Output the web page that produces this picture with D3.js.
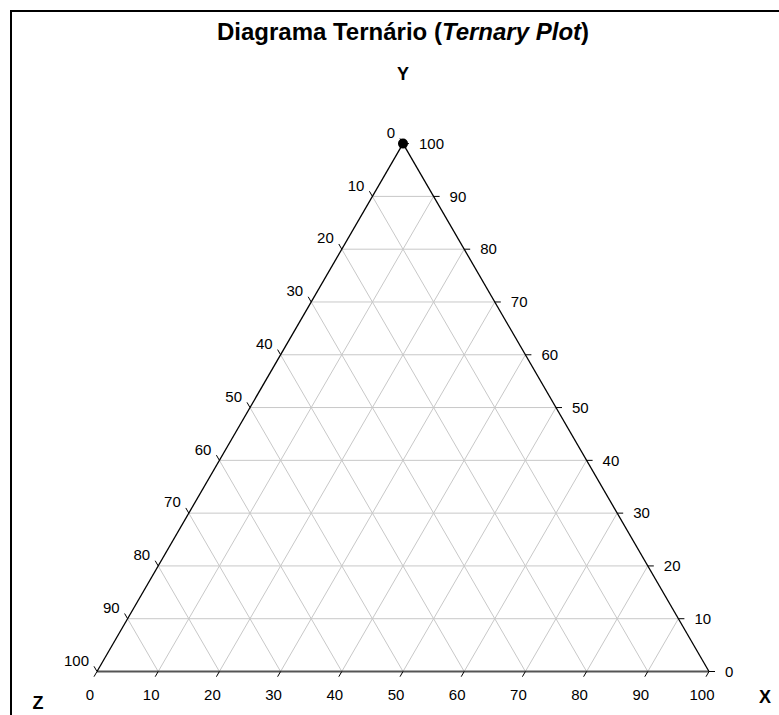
<!DOCTYPE html>
<html>
<head>
<meta charset="utf-8">
<script src="https://cdn.jsdelivr.net/npm/d3@7"></script>
<style>
  html, body { margin: 0; padding: 0; background: #fff; }
  svg { display: block; font-family: "Liberation Sans", Arial, Helvetica, sans-serif; }
</style>
</head>
<body>
<svg id="chart" width="779" height="715"></svg>
<script>
// Ternary data: one sample at the Y vertex (X, Y, Z in percent)
const pointX = [0];
const pointY = [100];
const pointZ = [0];

// Axis tick values (percent)
const tickValues = [0, 10, 20, 30, 40, 50, 60, 70, 80, 90, 100];
const gridValues = [10, 20, 30, 40, 50, 60, 70, 80, 90];

const titleMain = "Diagrama Ternário (";
const titleItalic = "Ternary Plot";
const titleEnd = ")";
const cornerLabels = { x: "X", y: "Y", z: "Z" };

const W = 779, H = 715;
const side = 612;
const cx = 403, baseY = 671.5;
const triH = side * Math.sqrt(3) / 2 * 0.996;

// Corner positions of the triangle
const BL = [cx - side / 2, baseY];   // Z = 100
const BR = [cx + side / 2, baseY];   // X = 100
const TOP = [cx, baseY - triH];      // Y = 100

// Fractional scale for each component
const frac = d3.scaleLinear().domain([0, 100]).range([0, 1]);

function ternary(x, y, z) {
  const s = x + y + z;
  const a = frac(x * 100 / s), b = frac(y * 100 / s), c = frac(z * 100 / s);
  return [a * BR[0] + b * TOP[0] + c * BL[0], a * BR[1] + b * TOP[1] + c * BL[1]];
}

const svg = d3.select("#chart");

// Outer frame
svg.append("rect")
  .attr("x", 11).attr("y", 11)
  .attr("width", W + 20).attr("height", H + 20)
  .attr("fill", "none").attr("stroke", "#000").attr("stroke-width", 2);

// Title
const title = svg.append("text")
  .attr("x", cx).attr("y", 32)
  .attr("dy", "0.35em")
  .attr("text-anchor", "middle")
  .attr("font-size", 24).attr("font-weight", "bold");
title.append("tspan").text(titleMain);
title.append("tspan").attr("font-style", "italic").text(titleItalic);
title.append("tspan").text(titleEnd);

// Grid lines
const grid = svg.append("g").attr("stroke", "#c8c8c8").attr("stroke-width", 1).attr("fill", "none");
gridValues.forEach(v => {
  // X constant
  let p1 = ternary(v, 0, 100 - v), p2 = ternary(v, 100 - v, 0);
  grid.append("line").attr("x1", p1[0]).attr("y1", p1[1]).attr("x2", p2[0]).attr("y2", p2[1]);
  // Y constant
  p1 = ternary(100 - v, v, 0); p2 = ternary(0, v, 100 - v);
  grid.append("line").attr("x1", p1[0]).attr("y1", p1[1]).attr("x2", p2[0]).attr("y2", p2[1]);
  // Z constant
  p1 = ternary(100 - v, 0, v); p2 = ternary(0, 100 - v, v);
  grid.append("line").attr("x1", p1[0]).attr("y1", p1[1]).attr("x2", p2[0]).attr("y2", p2[1]);
});

// Triangle edges
const edges = svg.append("g").attr("fill", "none");
edges.append("line")
  .attr("x1", BL[0]).attr("y1", BL[1]).attr("x2", BR[0]).attr("y2", BR[1])
  .attr("stroke", "#555").attr("stroke-width", 2.2);
edges.append("line")
  .attr("x1", BL[0]).attr("y1", BL[1]).attr("x2", TOP[0]).attr("y2", TOP[1])
  .attr("stroke", "#000").attr("stroke-width", 1.3);
edges.append("line")
  .attr("x1", BR[0]).attr("y1", BR[1]).attr("x2", TOP[0]).attr("y2", TOP[1])
  .attr("stroke", "#000").attr("stroke-width", 1.3);

// Ticks and tick labels
const tickLen = 6;
const c60 = 0.5, s60 = Math.sqrt(3) / 2;
const ticks = svg.append("g").attr("stroke", "#000").attr("stroke-width", 1);
const labels = svg.append("g").attr("font-size", 15).attr("fill", "#000");

tickValues.forEach(v => {
  // Bottom axis: X
  let p = ternary(v, 0, 100 - v + 1e-9);
  ticks.append("line").attr("x1", p[0]).attr("y1", p[1])
    .attr("x2", p[0] - c60 * tickLen).attr("y2", p[1] + s60 * tickLen);
  labels.append("text").attr("x", p[0] - 7).attr("y", p[1] + 23)
    .attr("dy", "0.35em").attr("text-anchor", "middle").text(v);

  // Right axis: Y
  p = ternary(100 - v + 1e-9, v, 0);
  ticks.append("line").attr("x1", p[0]).attr("y1", p[1])
    .attr("x2", p[0] + tickLen).attr("y2", p[1]);
  labels.append("text").attr("x", p[0] + 16).attr("y", p[1])
    .attr("dy", "0.35em").attr("text-anchor", "start").text(v);

  // Left axis: Z
  p = ternary(0, 100 - v + 1e-9, v);
  ticks.append("line").attr("x1", p[0]).attr("y1", p[1])
    .attr("x2", p[0] - c60 * tickLen).attr("y2", p[1] - s60 * tickLen);
  labels.append("text").attr("x", p[0] - 8).attr("y", p[1] - 11)
    .attr("dy", "0.35em").attr("text-anchor", "end").text(v);
});

// Corner labels
const corner = svg.append("g").attr("font-size", 18).attr("font-weight", "bold").attr("text-anchor", "middle");
corner.append("text").attr("x", cx).attr("y", 74).attr("dy", "0.35em").text(cornerLabels.y);
corner.append("text").attr("x", 38).attr("y", 703).attr("dy", "0.35em").text(cornerLabels.z);
corner.append("text").attr("x", 765).attr("y", 697).attr("dy", "0.35em").text(cornerLabels.x);

// Data points
svg.append("g").selectAll("circle")
  .data(pointX.map((x, i) => ternary(x, pointY[i], pointZ[i])))
  .join("circle")
  .attr("cx", d => d[0]).attr("cy", d => d[1])
  .attr("r", 5).attr("fill", "#000");
</script>
</body>
</html>
